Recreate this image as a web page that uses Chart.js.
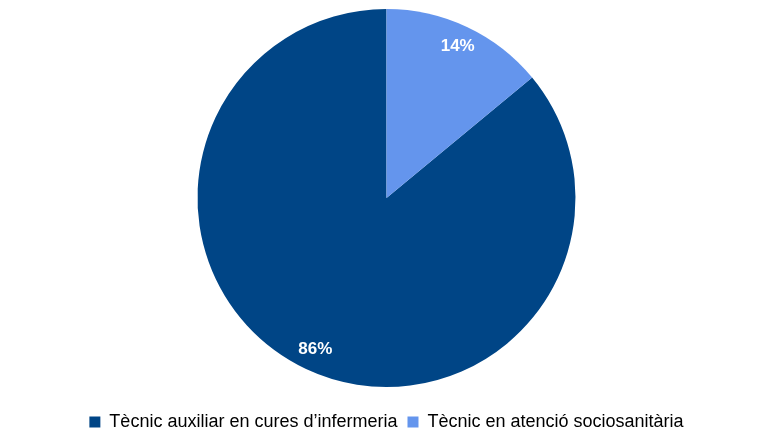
<!DOCTYPE html>
<html>
<head>
<meta charset="utf-8">
<script src="https://cdn.jsdelivr.net/npm/chart.js@4"></script>
<style>
  html, body { margin: 0; padding: 0; background: #fff; }
  #wrap { width: 773px; height: 435px; position: relative; }
</style>
</head>
<body>
<div id="wrap"><canvas id="pie"></canvas></div>
<script>
// dades
const categories = ["Tècnic auxiliar en cures d’infermeria", "Tècnic en atenció sociosanitària"];
const values = [86, 14];
const colors = ["#004586", "#6495ed"];

// etiquetes de percentatge dins de cada porció
const pctLabels = {
  id: "pctLabels",
  afterDatasetsDraw(chart) {
    const ctx = chart.ctx;
    const meta = chart.getDatasetMeta(0);
    const total = values.reduce((a, b) => a + b, 0);
    ctx.save();
    ctx.fillStyle = "#fff";
    ctx.font = "bold 17px 'Liberation Sans', Arial, sans-serif";
    ctx.textAlign = "center";
    ctx.textBaseline = "middle";
    meta.data.forEach((arc, i) => {
      const mid = (arc.startAngle + arc.endAngle) / 2;
      const r = arc.outerRadius * 0.885;
      const x = arc.x + Math.cos(mid) * r;
      const y = arc.y + Math.sin(mid) * r;
      ctx.fillText(Math.round(values[i] / total * 100) + "%", x, y);
    });
    ctx.restore();
  }
};

new Chart(document.getElementById("pie"), {
  type: "pie",
  data: {
    labels: categories,
    datasets: [{
      data: values,
      backgroundColor: colors,
      borderWidth: 0
    }]
  },
  options: {
    responsive: true,
    maintainAspectRatio: false,
    animation: false,
    rotation: 50.4,
    layout: { padding: { top: 9, bottom: -6 } },
    plugins: {
      tooltip: { enabled: false },
      legend: {
        position: "bottom",
        // títol buit només per separar la llegenda del pastís
        title: { display: true, text: "", padding: { top: 15, bottom: 0 }, font: { size: 1, lineHeight: 1 } },
        labels: {
          color: "#000",
          boxWidth: 11,
          boxHeight: 11,
          padding: 10,
          font: { family: "'Liberation Sans', Arial, sans-serif", size: 18 }
        }
      }
    }
  },
  plugins: [pctLabels]
});
</script>
</body>
</html>
